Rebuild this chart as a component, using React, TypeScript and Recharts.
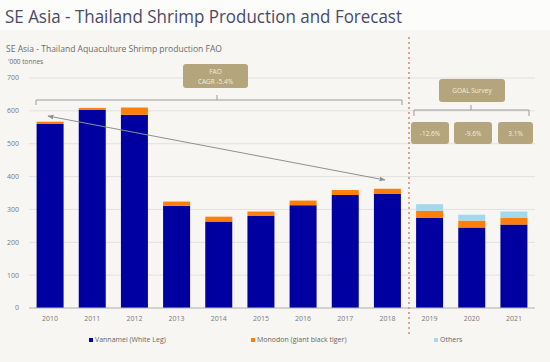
import { BarChart, Bar, XAxis, YAxis, CartesianGrid } from 'recharts'

const years = ['2010', '2011', '2012', '2013', '2014', '2015', '2016', '2017', '2018', '2019', '2020', '2021']
const vannamei = [560, 603, 588, 311, 263, 280, 313, 344, 347, 274, 245, 254]
const monodon = [7, 6, 22, 13, 15, 14, 14, 15, 16, 22, 21, 20]
const others = [null, null, null, null, null, null, null, null, null, 20, 18, 20]
const yTicks = [0, 100, 200, 300, 400, 500, 600, 700]
const surveyLabels = ['-12.6%', '-9.6%', '3.1%']

const series = [
  { key: 'vannamei', name: 'Vannamei (White Leg)', color: '#0000A0' },
  { key: 'monodon', name: 'Monodon (giant black tiger)', color: '#FF7F0A' },
  { key: 'others', name: 'Others', color: '#A3D9EC' },
]

const data = years.map((year, i) => ({
  year,
  vannamei: vannamei[i],
  monodon: monodon[i],
  others: others[i],
}))

const FONT = '"Open Sans", "DejaVu Sans", sans-serif'
const BOX = '#B4A57C'
const BOX_TEXT = '#F3EEDF'
const BRACKET = '#9a9a9a'

const tickStyle = { fontSize: 7, fill: '#7a7a7a', fontFamily: FONT }

const legendPos = [89, 251, 434]

function LegendRow() {
  return (
    <div style={{ position: 'absolute', left: 0, top: 335, width: 550, height: 12, fontFamily: FONT, fontSize: 7, color: '#666' }}>
      {series.map((s, i) => (
        <div
          key={s.key}
          style={{ position: 'absolute', left: legendPos[i], top: 0, display: 'flex', alignItems: 'center', whiteSpace: 'nowrap' }}
        >
          <span style={{ width: 4, height: 4, background: s.color, marginRight: 2, display: 'inline-block' }} />
          {s.name}
        </div>
      ))}
    </div>
  )
}

function Overlay() {
  const boxes = [
    { x: 411, w: 38 },
    { x: 454, w: 38 },
    { x: 498, w: 35 },
  ]
  return (
    <svg width={550} height={362} style={{ position: 'absolute', left: 0, top: 0, pointerEvents: 'none' }}>
      <defs>
        <marker id="ah" viewBox="0 0 10 10" refX="9" refY="5" markerWidth="6" markerHeight="6" orient="auto-start-reverse">
          <path d="M0,1 L10,5 L0,9 z" fill="#8f8f8f" />
        </marker>
      </defs>
      <text x={5} y={23} fontSize={19} fill="#4a4a68" fontFamily={FONT} textLength={397} lengthAdjust="spacingAndGlyphs">
        SE Asia - Thailand Shrimp Production and Forecast
      </text>
      <text x={6} y={52} fontSize={8.4} fill="#6b6b6b" fontFamily={FONT} textLength={216} lengthAdjust="spacingAndGlyphs">
        SE Asia - Thailand Aquaculture Shrimp production FAO
      </text>
      <text x={8} y={64} fontSize={6.5} fill="#6b6b6b" fontFamily={FONT}>
        '000 tonnes
      </text>

      <line x1={409} y1={37} x2={409} y2={334} stroke="#D9866F" strokeWidth={1.5} strokeDasharray="2 3" />

      <rect x={183} y={64} width={65} height={24} rx={3} fill={BOX} />
      <text x={215.5} y={74} textAnchor="middle" fontSize={6.5} fill={BOX_TEXT} fontFamily={FONT}>FAO</text>
      <text x={215.5} y={84} textAnchor="middle" fontSize={6.5} fill={BOX_TEXT} fontFamily={FONT}>CAGR -5.4%</text>
      <path d="M36 105 L36 100 L402 100 L402 105 M217 100 L217 95" stroke={BRACKET} fill="none" strokeWidth={1} />

      <rect x={439} y={79} width={66} height={23} rx={3} fill={BOX} />
      <text x={472} y={93} textAnchor="middle" fontSize={6.5} fill={BOX_TEXT} fontFamily={FONT}>GOAL Survey</text>
      <path d="M414 116 L414 110 L529 110 L529 116 M471 110 L471 105" stroke={BRACKET} fill="none" strokeWidth={1} />

      {boxes.map((b, i) => (
        <g key={i}>
          <rect x={b.x} y={122} width={b.w} height={22} rx={3} fill={BOX} />
          <text x={b.x + b.w / 2} y={135.5} textAnchor="middle" fontSize={6.5} fill={BOX_TEXT} fontFamily={FONT}>
            {surveyLabels[i]}
          </text>
        </g>
      ))}

      <line x1={48} y1={116} x2={385} y2={180} stroke="#8f8f8f" strokeWidth={1} markerStart="url(#ah)" markerEnd="url(#ah)" />
    </svg>
  )
}

export default function App() {
  return (
    <div style={{ position: 'absolute', left: 0, top: 0, width: 550, height: 362, background: '#F7F6F2', overflow: 'hidden' }}>
      <div style={{ position: 'absolute', left: 0, top: 0, width: 550, height: 30, background: '#FCFCFB' }} />
      <BarChart
        width={550}
        height={362}
        data={data}
        margin={{ top: 78, right: 15, left: 0, bottom: 34 }}
        barCategoryGap="18%"
        style={{ position: 'absolute', left: 0, top: 0 }}
      >
        <CartesianGrid vertical={false} stroke="#e1e1de" />
        <XAxis
          dataKey="year"
          height={20}
          tick={tickStyle}
          tickLine={false}
          axisLine={{ stroke: '#b8b8b8' }}
          interval={0}
        />
        <YAxis
          width={29}
          domain={[0, 700]}
          ticks={yTicks}
          tick={tickStyle}
          tickLine={false}
          axisLine={false}
          tickSize={0}
          tickMargin={10}
        />
        {series.map((s) => (
          <Bar key={s.key} dataKey={s.key} name={s.name} stackId="a" fill={s.color} isAnimationActive={false} />
        ))}
      </BarChart>
      <LegendRow />
      <Overlay />
    </div>
  )
}
